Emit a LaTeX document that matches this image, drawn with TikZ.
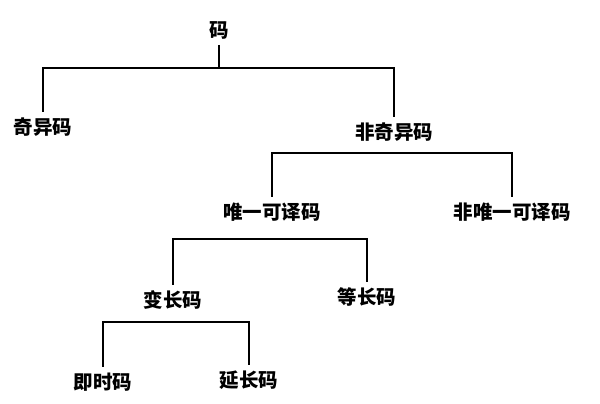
\documentclass[tikz,border=0pt]{standalone}
\usepackage{fontspec}
\newfontfamily\cjk{Noto Sans CJK SC}
\begin{document}
\begin{tikzpicture}[x=1pt,y=-1pt,line width=1.8pt,
  every node/.style={font=\cjk\bfseries\fontsize{19.5pt}{20pt}\selectfont,inner sep=6pt,outer sep=0pt}]
  \useasboundingbox (0,0) rectangle (600,404);
  \node (A) at (219,30) {码};
  \node (B) at (43,127) {奇异码};
  \node (C) at (394,132) {非奇异码};
  \node (D) at (272,212) {唯一可译码};
  \node (E) at (512,212) {非唯一可译码};
  \node (F) at (173,300) {变长码};
  \node (G) at (367,297) {等长码};
  \node (H) at (103,382) {即时码};
  \node (I) at (249,380) {延长码};
  \coordinate (b1) at (219,68);
  \coordinate (b2) at (390,153);
  \coordinate (b3) at (270,239);
  \coordinate (b4) at (173,322);
  \draw (A) -- (b1);
  \draw (B.north) |- (b1) -| (C.north);
  \draw (D.north) |- (b2) -| (E.north);
  \draw (F.north) |- (b3) -| (G.north);
  \draw (H.north) |- (b4) -| (I.north);
\end{tikzpicture}
\end{document}
